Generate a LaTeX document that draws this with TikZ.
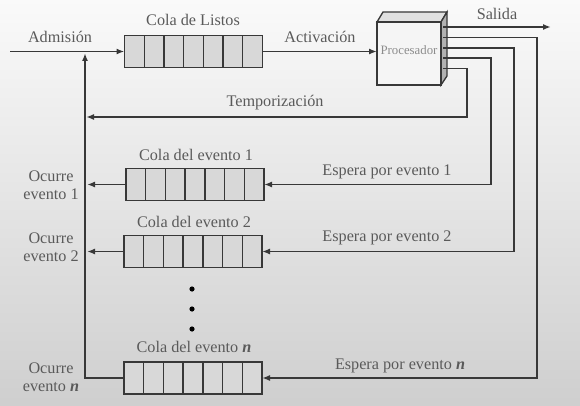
\documentclass[tikz,border=0pt]{standalone}
\usepackage{fontspec}
\setmainfont{Liberation Serif}
\newfontfamily\serifx{Liberation Serif}
\usetikzlibrary{arrows.meta,calc}
\definecolor{lin}{HTML}{383838}
\definecolor{txt}{HTML}{5A5A5A}
\definecolor{qfill}{HTML}{D8D8D8}
\begin{document}
\begin{tikzpicture}[x=1pt,y=-1pt,
  every node/.style={inner sep=0pt,outer sep=0pt},
  lbl/.style={text=txt,font=\serifx\fontsize{16.2}{17.5}\selectfont,align=center},
  conn/.style={draw=lin,line width=1.8pt},
  arr/.style={conn,-{Latex[length=8pt,width=6pt]}},
  queuebox/.style={draw=lin,line width=1.5pt,fill=qfill,minimum width=138pt,minimum height=32pt}
]
\useasboundingbox (0,0) rectangle (580,406);
\shade[top color=black!2,middle color=black!7,bottom color=black!19] (0,0) rectangle (580,406);

% queues
\node[queuebox] (q0) at (193.5,51.5) {};
\node[queuebox] (q1) at (195,184.5) {};
\node[queuebox] (q2) at (193,251.5) {};
\node[queuebox] (qn) at (193,378) {};
\foreach \q in {q0,q1,q2,qn}{
  \foreach \i in {1,...,6}{
    \draw[draw=lin,line width=1.3pt] ($(\q.north west)!\i/7!(\q.north east)$) -- ($(\q.south west)!\i/7!(\q.south east)$);
  }
}

% processor
\fill[black!12,draw=lin,line width=1.3pt] (377,22) -- (383,12) -- (447,12) -- (441,22) -- cycle;
\fill[black!30,draw=lin,line width=1.3pt] (441,22) -- (447,12) -- (447,76) -- (441,85) -- cycle;
\node[draw=lin,line width=1.5pt,fill=black!4,minimum width=64pt,minimum height=63pt] (proc) at (409,53.5) {};
\node[text=black!45,font=\serifx\fontsize{12.8}{13}\selectfont] (proclbl) at (409,50) {Procesador};

% labels
\node[lbl] (l0) at (193,20) {Cola de Listos};
\node[lbl] (l1) at (196,155) {Cola del evento 1};
\node[lbl] (l2) at (194,222) {Cola del evento 2};
\node[lbl] (ln) at (194,347) {Cola del evento \textbf{\textit{n}}};
\node[lbl] (adm) at (60,37) {Admisión};
\node[lbl] (act) at (320,37) {Activación};
\node[lbl] (sal) at (497,14) {Salida};
\node[lbl] (tmp) at (275,103) {Temporización};
\node[lbl] (e1) at (387,172) {Espera por evento 1};
\node[lbl] (e2) at (387,238) {Espera por evento 2};
\node[lbl] (en) at (400,366) {Espera por evento \textbf{\textit{n}}};
\node[lbl] (o1) at (51,185) {Ocurre\\evento 1};
\node[lbl] (o2) at (51,247) {Ocurre\\evento 2};
\node[lbl] (on) at (51,377) {Ocurre\\evento \textbf{\textit{n}}};

% dots
\foreach \yy in {289,309,329} \fill[black] (192,\yy) circle (2.6pt);

% coordinates
\coordinate (start) at (10,51.5);
\coordinate (vl) at (85,53);
\coordinate (p1) at (443,27);
\coordinate (p2) at (443,37.5);
\coordinate (p3) at (443,48);
\coordinate (p4) at (443,58);
\coordinate (p5) at (443,68.5);
\coordinate (out) at (551,27);
\coordinate (c2) at (537,37.5);
\coordinate (c3) at (514,48);
\coordinate (c4) at (491,58);
\coordinate (c5) at (467,68.5);
\coordinate (tend) at (86,117);

% connectors
\draw[arr] (start) -- (q0.west);
\draw[arr] (q0.east) -- (q0.east -| proc.west);
\draw[arr] (p1) -- (out);
\draw[arr] (p2) -- (c2) |- (qn.east);
\draw[arr] (p3) -- (c3) |- (q2.east);
\draw[arr] (p4) -- (c4) |- (q1.east);
\draw[arr] (p5) -- (c5) |- (tend);
\draw[arr] (q1.west) -- (87,184.5);
\draw[arr] (q2.west) -- (87,251.5);
\draw[arr] (qn.west) -| (vl);
\end{tikzpicture}
\end{document}
